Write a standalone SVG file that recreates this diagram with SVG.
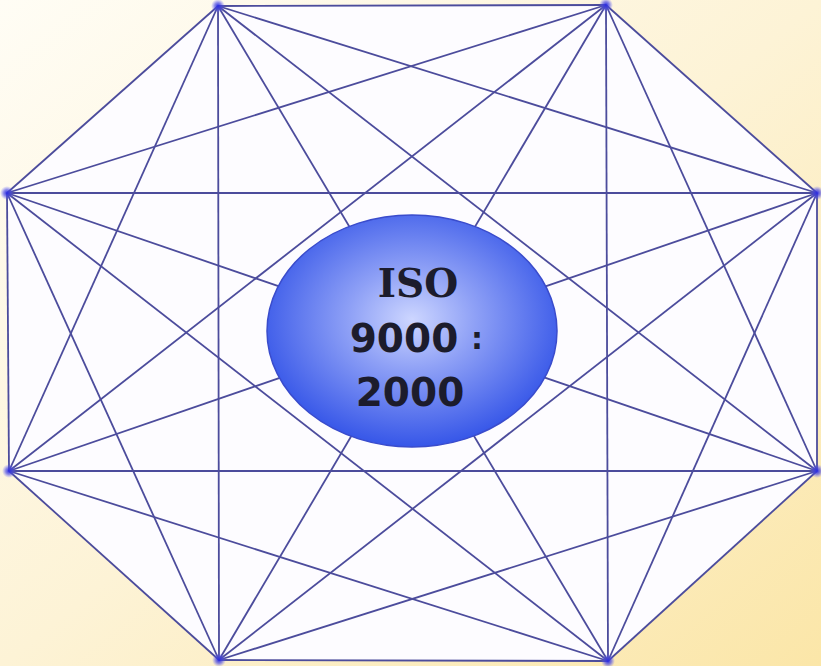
<svg xmlns="http://www.w3.org/2000/svg" width="821" height="666" viewBox="0 0 821 666">
<defs>
<linearGradient id="bg" x1="0" y1="0" x2="1" y2="1">
<stop offset="0" stop-color="#fffdf5"/>
<stop offset="0.5" stop-color="#fdf3d6"/>
<stop offset="1" stop-color="#fbe6a8"/>
</linearGradient>
<radialGradient id="ell" cx="0.5" cy="0.45" r="0.55">
<stop offset="0" stop-color="#cdd6ff"/>
<stop offset="0.4" stop-color="#8ea0f6"/>
<stop offset="1" stop-color="#3656e8"/>
</radialGradient>
<radialGradient id="dot">
<stop offset="0" stop-color="#2a2ae0"/>
<stop offset="0.5" stop-color="#4444e8" stop-opacity="0.6"/>
<stop offset="1" stop-color="#6666ff" stop-opacity="0"/>
</radialGradient>
</defs>
<style>
.c line{stroke:#4c4c9c;stroke-width:1.8}
.t{font-family:"DejaVu Sans",sans-serif;font-weight:bold;font-size:39px;fill:#1c1c2c;text-anchor:middle}
.s{font-family:"DejaVu Serif",serif}
.k{font-size:30px}
</style>
<rect width="821" height="666" fill="url(#bg)"/>
<polygon points="218,6 606,5 817,193 817,471 608,661 219,660 9,471 7,193" fill="#fdfcff"/>
<g class="c" id="connectors">
<line x1="218" y1="6" x2="606" y2="5"/>
<line x1="218" y1="6" x2="817" y2="193"/>
<line x1="218" y1="6" x2="817" y2="471"/>
<line x1="218" y1="6" x2="608" y2="661"/>
<line x1="218" y1="6" x2="219" y2="660"/>
<line x1="218" y1="6" x2="9" y2="471"/>
<line x1="218" y1="6" x2="7" y2="193"/>
<line x1="606" y1="5" x2="817" y2="193"/>
<line x1="606" y1="5" x2="817" y2="471"/>
<line x1="606" y1="5" x2="608" y2="661"/>
<line x1="606" y1="5" x2="219" y2="660"/>
<line x1="606" y1="5" x2="9" y2="471"/>
<line x1="606" y1="5" x2="7" y2="193"/>
<line x1="817" y1="193" x2="817" y2="471"/>
<line x1="817" y1="193" x2="608" y2="661"/>
<line x1="817" y1="193" x2="219" y2="660"/>
<line x1="817" y1="193" x2="9" y2="471"/>
<line x1="817" y1="193" x2="7" y2="193"/>
<line x1="817" y1="471" x2="608" y2="661"/>
<line x1="817" y1="471" x2="219" y2="660"/>
<line x1="817" y1="471" x2="9" y2="471"/>
<line x1="817" y1="471" x2="7" y2="193"/>
<line x1="608" y1="661" x2="219" y2="660"/>
<line x1="608" y1="661" x2="9" y2="471"/>
<line x1="608" y1="661" x2="7" y2="193"/>
<line x1="219" y1="660" x2="9" y2="471"/>
<line x1="219" y1="660" x2="7" y2="193"/>
<line x1="9" y1="471" x2="7" y2="193"/>
</g>
<g id="vertices" fill="url(#dot)">
<circle cx="218" cy="6" r="7"/>
<circle cx="606" cy="5" r="7"/>
<circle cx="817" cy="193" r="7"/>
<circle cx="817" cy="471" r="7"/>
<circle cx="608" cy="661" r="7"/>
<circle cx="219" cy="660" r="7"/>
<circle cx="9" cy="471" r="7"/>
<circle cx="7" cy="193" r="7"/>
</g>
<g id="center">
<ellipse cx="412" cy="331" rx="145" ry="116" fill="url(#ell)" stroke="#3a4ccc" stroke-width="1.5"/>
<text class="t s" x="418" y="297">ISO</text>
<text class="t" x="404" y="352">9000</text>
<text class="t k" x="477" y="349">:</text>
<text class="t" x="410" y="406">2000</text>
</g>
</svg>
